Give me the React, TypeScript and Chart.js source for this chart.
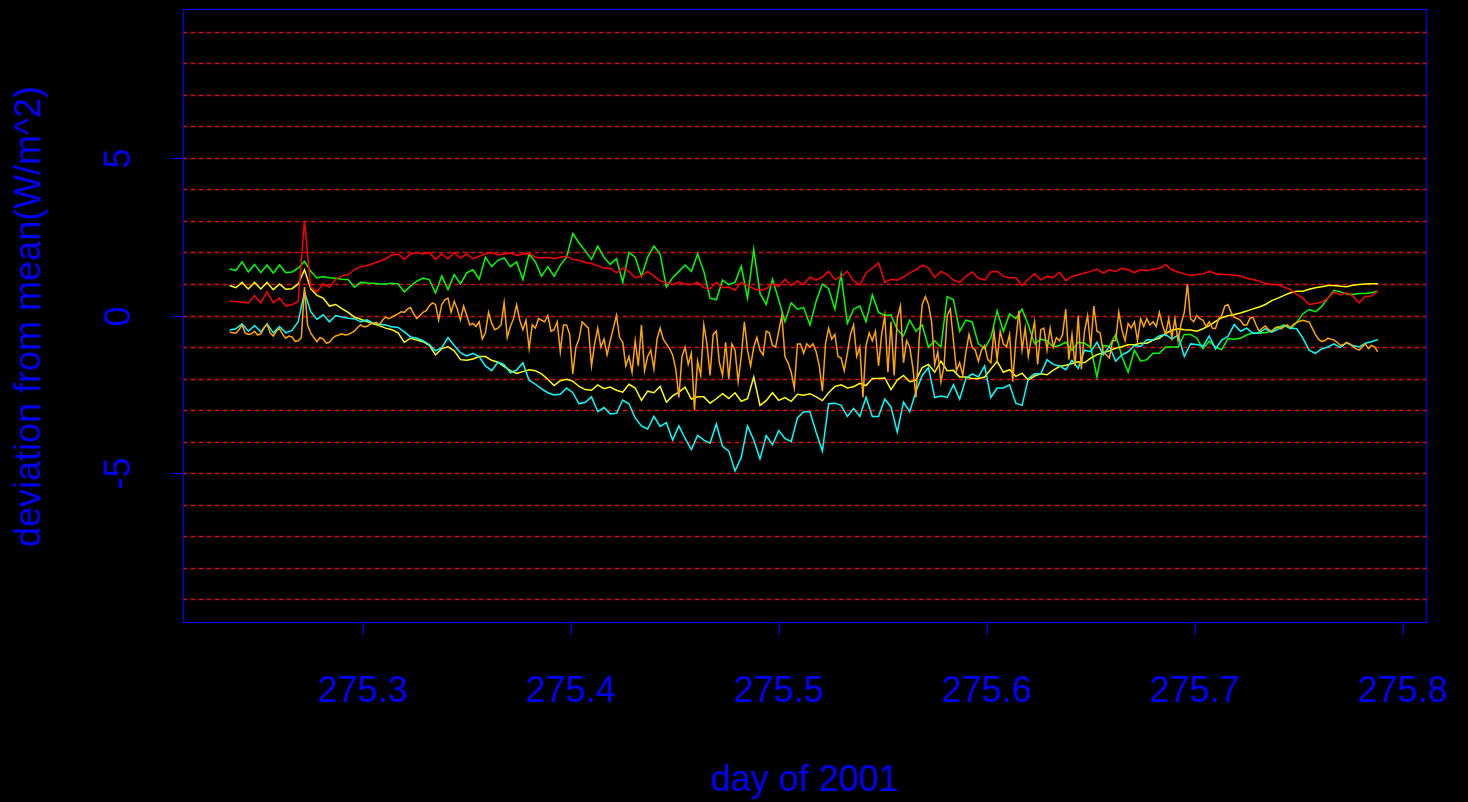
import React, { useEffect, useRef } from "react";
import { Chart, registerables } from "chart.js";

Chart.register(...registerables);

// sampling grids (day of 2001)
const DAY_START = 275.236;
const DAY_STEP = 0.003;
const ORANGE_STEP = 0.0015;

const X_MIN = 275.2136;
const X_MAX = 275.8112;
const Y_MIN = -9.72;
const Y_MAX = 9.72;

const X_TICKS = [275.3, 275.4, 275.5, 275.6, 275.7, 275.8];
const X_TICK_LABELS = ["275.3", "275.4", "275.5", "275.6", "275.7", "275.8"];
const Y_TICKS = [-5, 0, 5];
const Y_TICK_LABELS = ["-5", "0", "5"];
const GRID_VALUES = [-9, -8, -7, -6, -5, -4, -3, -2, -1, 0, 1, 2, 3, 4, 5, 6, 7, 8, 9];

const X_TITLE = "day of 2001";
const Y_TITLE = "deviation from mean(W/m^2)";

const red = [
  0.45, 0.44, 0.42, 0.40, 0.63, 0.40, 0.75, 0.40, 0.55, 0.30,
  0.34, 0.45, 3.00, 0.90, 0.75, 1.00, 0.90, 1.15, 1.25, 1.30,
  1.45, 1.55, 1.58, 1.65, 1.72, 1.80, 1.92, 1.95, 1.78, 1.95,
  2.00, 1.95, 2.00, 1.78, 1.95, 1.80, 2.00, 1.82, 1.95, 1.80,
  1.88, 1.95, 2.00, 1.92, 1.95, 1.98, 1.90, 1.95, 1.97, 1.85,
  1.82, 1.85, 1.80, 1.85, 1.88, 1.78, 1.75, 1.68, 1.65, 1.58,
  1.50, 1.50, 1.35, 1.50, 1.40, 1.20, 1.25, 1.40, 1.25, 1.10,
  1.05, 0.98, 1.05, 1.00, 0.98, 1.05, 0.88, 0.85, 1.05, 0.88,
  0.90, 0.80, 1.05, 0.95, 0.85, 0.80, 0.85, 1.00, 0.92, 1.15,
  0.95, 1.10, 0.98, 1.22, 1.12, 1.22, 1.40, 1.14, 1.24, 1.40,
  1.10, 0.97, 1.35, 1.50, 1.67, 1.05, 1.15, 1.12, 1.22, 1.35,
  1.45, 1.60, 1.50, 1.20, 1.40, 1.30, 1.12, 1.05, 1.24, 1.38,
  1.18, 1.13, 1.38, 1.40, 1.24, 1.20, 1.20, 0.95, 1.15, 1.32,
  1.13, 1.24, 1.20, 1.37, 1.10, 1.24, 1.29, 1.35, 1.40, 1.47,
  1.34, 1.45, 1.40, 1.50, 1.45, 1.36, 1.45, 1.42, 1.47, 1.50,
  1.61, 1.45, 1.38, 1.32, 1.27, 1.30, 1.32, 1.40, 1.33, 1.30,
  1.30, 1.28, 1.25, 1.18, 1.14, 1.09, 1.02, 0.98, 0.98, 0.90,
  0.82, 0.67, 0.55, 0.35, 0.38, 0.42, 0.55, 0.75, 0.65, 0.72,
  0.62, 0.40, 0.60, 0.62, 0.77,
];

const green = [
  1.48, 1.42, 1.70, 1.38, 1.62, 1.36, 1.60, 1.35, 1.60, 1.36,
  1.38, 1.50, 1.72, 1.40, 1.19, 1.24, 1.20, 1.18, 1.15, 1.14,
  0.90, 1.05, 1.03, 1.02, 1.00, 1.00, 1.02, 1.00, 0.75, 0.93,
  1.09, 1.19, 1.14, 0.71, 1.25, 0.82, 1.30, 1.00, 1.35, 1.45,
  1.15, 1.85, 1.55, 1.75, 1.83, 1.55, 1.70, 1.14, 1.95, 1.70,
  1.25, 1.55, 1.24, 1.60, 1.85, 2.60, 2.30, 2.05, 1.78, 2.20,
  1.85, 1.62, 1.80, 1.05, 2.00, 1.85, 1.24, 1.85, 2.20, 1.95,
  0.90, 1.20, 1.40, 1.60, 1.40, 1.95, 1.40, 0.55, 0.50, 1.12,
  0.98, 1.05, 1.56, 0.55, 2.10, 0.70, 0.35, 1.15, 0.50, -0.20,
  0.40, 0.20, 0.25, -0.30, 0.45, 1.00, 0.85, 0.20, 1.30, -0.25,
  0.20, 0.30, -0.20, 0.65, 0.10, 0.00, 0.02, -0.45, -0.65, -0.15,
  -0.50, -0.30, -1.00, -0.80, -1.00, 0.60, 0.50, -0.50, -0.15, -0.20,
  -0.90, -1.05, -0.70, 0.15, -0.50, 0.05, -0.10, 0.20, -0.30, -0.90,
  -0.75, -0.80, -1.00, -0.95, -0.85, -1.10, -0.85, -0.88, -1.00, -1.95,
  -0.95, -0.98, -0.60, -1.30, -1.80, -1.10, -1.45, -1.40, -1.20, -1.20,
  -1.00, -1.00, -1.00, -0.60, -0.60, -0.72, -1.05, -0.81, -1.00, -1.08,
  -0.73, -0.75, -0.72, -0.62, -0.55, -0.56, -0.54, -0.50, -0.38, -0.30,
  -0.42, -0.22, 0.05, 0.19, 0.12, 0.28, 0.55, 0.80, 0.75, 0.68,
  0.67, 0.70, 0.70, 0.72, 0.77,
];

const yellow = [
  0.95, 0.88, 1.05, 0.84, 1.05, 0.84, 1.05, 0.82, 1.00, 0.83,
  0.85, 1.00, 1.45, 0.85, 0.64, 0.55, 0.30, 0.35, 0.22, 0.10,
  -0.05, -0.12, -0.19, -0.26, -0.32, -0.40, -0.45, -0.55, -0.85, -0.72,
  -0.78, -0.83, -0.95, -1.25, -1.05, -0.99, -1.12, -1.40, -1.42, -1.38,
  -1.30, -1.30, -1.42, -1.48, -1.62, -1.75, -1.84, -1.78, -1.72, -1.75,
  -1.85, -2.02, -2.22, -2.07, -2.02, -2.08, -2.25, -2.35, -2.37, -2.20,
  -2.32, -2.27, -2.37, -2.43, -2.18, -2.30, -2.69, -2.40, -2.45, -2.25,
  -2.75, -2.55, -2.43, -2.27, -2.65, -2.58, -2.58, -2.78, -2.64, -2.48,
  -2.63, -2.45, -2.72, -2.64, -1.95, -2.85, -2.70, -2.45, -2.69, -2.60,
  -2.72, -2.50, -2.53, -2.48, -2.58, -2.70, -2.45, -2.25, -2.20, -2.30,
  -2.26, -2.15, -2.22, -2.00, -2.00, -1.98, -2.35, -2.05, -1.90, -2.10,
  -2.05, -1.65, -1.55, -1.80, -1.45, -1.75, -1.74, -1.95, -1.95, -2.00,
  -2.00, -1.95, -1.70, -1.45, -1.80, -1.72, -1.93, -1.83, -2.05, -1.92,
  -1.85, -1.88, -1.73, -1.62, -1.58, -1.52, -1.47, -1.50, -1.35, -1.24,
  -1.18, -1.12, -1.04, -0.99, -0.93, -0.93, -0.88, -0.88, -0.78, -0.72,
  -0.57, -0.47, -0.42, -0.45, -0.46, -0.50, -0.42, -0.32, -0.19, -0.07,
  -0.01, 0.03, 0.08, 0.14, 0.21, 0.27, 0.35, 0.47, 0.55, 0.64,
  0.72, 0.77, 0.77, 0.83, 0.88, 0.91, 0.95, 0.95, 0.93, 0.91,
  0.96, 0.98, 1.00, 1.01, 1.01,
];

const cyan = [
  -0.46, -0.42, -0.26, -0.50, -0.32, -0.52, -0.26, -0.55, -0.35, -0.55,
  -0.47, -0.20, 0.75, 0.12, -0.12, 0.02, -0.20, 0.00, -0.05, -0.09,
  -0.10, -0.20, -0.14, -0.24, -0.28, -0.30, -0.36, -0.38, -0.52, -0.68,
  -0.72, -0.80, -0.92, -1.12, -1.02, -0.70, -0.95, -1.18, -1.28, -1.20,
  -1.30, -1.60, -1.75, -1.48, -1.56, -1.82, -1.73, -1.50, -2.05, -2.18,
  -2.33, -2.45, -2.52, -2.50, -2.30, -2.45, -2.80, -2.75, -2.58, -3.05,
  -2.92, -3.12, -3.10, -2.68, -2.80, -3.25, -3.50, -3.60, -3.20, -3.52,
  -3.40, -3.95, -3.50, -3.90, -4.25, -3.80, -3.95, -4.05, -3.44, -4.15,
  -4.30, -4.93, -4.50, -3.50, -3.95, -4.55, -3.81, -4.10, -3.65, -3.90,
  -4.00, -3.25, -3.05, -3.05, -3.70, -4.30, -2.80, -2.78, -2.85, -3.20,
  -2.95, -3.20, -2.59, -3.20, -3.20, -2.65, -2.90, -3.70, -2.75, -3.05,
  -2.40, -1.90, -1.65, -2.60, -2.55, -2.60, -2.20, -2.65, -2.00, -1.85,
  -1.95, -1.60, -2.60, -2.30, -2.30, -2.20, -2.78, -2.85, -2.00, -1.85,
  -1.85, -1.40, -1.55, -1.60, -1.72, -1.42, -1.68, -1.10, -1.15, -0.85,
  -1.25, -0.98, -1.45, -1.25, -1.15, -0.95, -0.98, -0.77, -0.77, -0.65,
  -0.60, -0.75, -0.62, -1.30, -0.90, -0.92, -0.97, -0.65, -1.06, -0.78,
  -0.66, -0.29, -0.50, -0.40, -0.57, -0.55, -0.42, -0.53, -0.44, -0.32,
  -0.40, -0.42, -0.72, -1.10, -1.20, -1.06, -1.00, -0.90, -1.02, -0.87,
  -0.95, -1.00, -0.88, -0.83, -0.76,
];

// orange is sampled twice as densely (ORANGE_STEP)
const orange = [
  -0.52, -0.55, -0.56, -0.45, -0.30, -0.55, -0.60, -0.58, -0.50, -0.62,
  -0.58, -0.40, -0.28, -0.55, -0.65, -0.50, -0.42, -0.60, -0.72, -0.65,
  -0.68, -0.82, -0.80, -0.70, 0.90, -0.30, -0.55, -0.70, -0.83, -0.70,
  -0.75, -0.88, -0.85, -0.72, -0.65, -0.62, -0.58, -0.62, -0.60, -0.55,
  -0.50, -0.38, -0.30, -0.36, -0.35, -0.28, -0.25, -0.22, -0.30, -0.15,
  -0.05, -0.10, -0.05, 0.00, 0.05, 0.12, 0.10, 0.20, 0.25, 0.05,
  -0.10, 0.00, 0.10, 0.15, 0.30, 0.40, 0.35, -0.15, 0.35, 0.50,
  0.55, 0.10, 0.45, 0.20, -0.14, 0.30, 0.00, -0.30, -0.25, -0.35,
  -0.20, -0.75, -0.55, 0.10, -0.25, -0.45, -0.40, -0.30, 0.40, -0.70,
  -0.35, -0.10, 0.34, -0.15, -0.45, -0.15, -1.05, -0.30, -0.40, -0.10,
  -0.15, -0.20, 0.00, -0.50, -0.45, -0.20, -1.15, -0.30, -0.30, -0.60,
  -1.85, -1.00, -0.75, -0.20, -0.30, -0.40, -1.60, -0.90, -0.40,
  -1.00, -0.75, -1.25, -0.80, -0.40, 0.00, -0.70, -0.85, -1.60, -1.30,
  -1.80, -0.80, -1.60, -0.30, -1.75, -1.30, -1.10, -1.70, -0.75, -0.40,
  -0.75, -0.90, -1.05, -1.25, -1.70, -2.60, -1.30, -1.00, -1.55, -1.20,
  -3.00, -1.45, -1.90, -0.30, -0.90, -1.90, -0.60, -0.50, -1.50, -1.90,
  -0.85, -2.00, -0.90, -1.10, -2.10, -1.30, -0.20, -1.10,
  -1.60, -1.00, -0.70, -1.10, -1.25, -0.50, -0.55, -0.95, -1.00, -0.50,
  0.00, -1.30, -1.50, -1.80, -2.30, -0.90, -0.90, -1.20, -0.90, -1.00,
  -0.90, -1.15, -1.60, -2.40, -0.90, -0.40, -0.75, -0.60, -1.30, -1.35,
  -1.75, -1.20, -0.60, -0.30, -1.30, -1.00, -2.60, -0.95, -0.55, -0.80,
  -0.50, -1.60, -0.60, 0.00, -1.80, -0.20, -1.90, -0.10,
  0.30, -1.50, -0.80, -1.00, -1.65, -2.60, -0.80, 0.35, 0.60, 0.35,
  -0.20, -1.55, -1.15, -2.10, -1.60, 0.00, 0.20, -0.80, -1.75, -1.50,
  -1.90, -1.15, -0.60, -1.00, -1.10, -1.45, -1.10, -0.95, -1.40, -1.50,
  -0.50, -1.40, -0.50, -0.90, -1.00, -0.60, -2.10, -0.80, 0.15, -1.10,
  -0.40, -1.30, -0.70, -0.20, -1.55, -0.45, -0.40, -1.10,
  -0.40, -1.00, -0.70, -0.80, -0.60, 0.20, -1.40, -0.60, -1.60, 0.00,
  -1.70, -0.50, 0.00, -1.00, 0.30, -0.50, -0.55, -1.15, -1.25, -1.35,
  -0.80, -0.80, 0.10, -0.45, -0.80, -0.25, -0.40, -0.20, -0.80, -0.10,
  -0.35, -0.10, -0.30, -0.20, -0.35, 0.10, -0.30, -0.60, -0.10, -0.70,
  -0.10, -0.80, -0.25, 0.10, 1.00, -0.10, -0.20, 0.00,
  -0.10, -0.15, -0.35, -0.20, -0.40, -0.42, -0.10, 0.00, 0.30, 0.35,
  0.10, -0.05, -0.10, -0.15, -0.30, -0.30, -0.10, -0.05, -0.30, -0.50,
  -0.40, -0.33, -0.45, -0.50, -0.40, -0.35, -0.42, -0.35, -0.30, -0.38,
  -0.28, -0.22, -0.18, -0.15, -0.18, -0.20, -0.40, -0.60, -0.75, -0.82,
  -0.80, -0.72, -0.75, -0.78, -0.85, -0.95, -0.92, -0.85, -0.90, -0.98,
  -1.05, -1.10, -1.00, -0.90, -1.05, -0.95, -1.00, -1.15,
];

const AXIS_BLUE = "#0000ff";
const FONT = "Liberation Sans, Arial, sans-serif";

function toPoints(values: number[], step: number) {
  return values.map((v, i) => ({ x: +(DAY_START + i * step).toFixed(4), y: v }));
}

const decorPlugin = {
  id: "decor",
  beforeDraw(chart: any) {
    const { ctx, width, height } = chart;
    ctx.save();
    ctx.fillStyle = "#000000";
    ctx.fillRect(0, 0, width, height);
    ctx.restore();
  },
  beforeDatasetsDraw(chart: any) {
    const { ctx, chartArea } = chart;
    const yScale = chart.scales.y;
    ctx.save();
    ctx.strokeStyle = "#ff0000";
    ctx.lineWidth = 1.5;
    ctx.setLineDash([4, 4]);
    for (const g of GRID_VALUES) {
      const y = Math.round(yScale.getPixelForValue(g)) + 0.5;
      ctx.beginPath();
      ctx.moveTo(chartArea.left, y);
      ctx.lineTo(chartArea.right, y);
      ctx.stroke();
    }
    ctx.restore();
  },
  afterDatasetsDraw(chart: any) {
    const { ctx, chartArea } = chart;
    const xScale = chart.scales.x;
    const yScale = chart.scales.y;
    const L = chartArea.left + 0.5;
    const R = chartArea.right + 0.5;
    const T = chartArea.top + 0.5;
    const B = chartArea.bottom + 0.5;
    ctx.save();
    ctx.strokeStyle = AXIS_BLUE;
    ctx.fillStyle = AXIS_BLUE;
    ctx.lineWidth = 1.2;
    ctx.setLineDash([]);
    ctx.strokeRect(L, T, R - L, B - T);

    // x ticks + labels
    ctx.font = `36px ${FONT}`;
    ctx.textAlign = "center";
    ctx.textBaseline = "alphabetic";
    X_TICKS.forEach((t, i) => {
      const x = Math.round(xScale.getPixelForValue(t)) + 0.5;
      ctx.beginPath();
      ctx.moveTo(x, B);
      ctx.lineTo(x, B + 12);
      ctx.stroke();
      ctx.fillText(X_TICK_LABELS[i], x - 1, 702);
    });

    // y ticks + rotated labels
    Y_TICKS.forEach((t, i) => {
      const y = Math.round(yScale.getPixelForValue(t)) + 0.5;
      ctx.beginPath();
      ctx.moveTo(L, y);
      ctx.lineTo(L - 12, y);
      ctx.stroke();
      ctx.save();
      ctx.translate(130, y);
      ctx.rotate(-Math.PI / 2);
      ctx.fillText(Y_TICK_LABELS[i], 0, 0);
      ctx.restore();
    });

    // titles
    ctx.fillText(X_TITLE, (chartArea.left + chartArea.right) / 2, 791);
    ctx.save();
    ctx.translate(40, (chartArea.top + chartArea.bottom) / 2 + 1);
    ctx.rotate(-Math.PI / 2);
    ctx.fillText(Y_TITLE, 0, 0);
    ctx.restore();
    ctx.restore();
  },
};

export default function App() {
  const canvasRef = useRef<HTMLCanvasElement | null>(null);

  useEffect(() => {
    document.body.style.margin = "0";
    document.body.style.background = "#000";
    const canvas = canvasRef.current;
    if (!canvas) return;
    const mk = (label: string, values: number[], step: number, color: string) => ({
      label,
      data: toPoints(values, step),
      borderColor: color,
      backgroundColor: color,
      borderWidth: 1.5,
      pointRadius: 0,
      tension: 0,
      fill: false,
    });
    const chart = new Chart(canvas, {
      type: "line",
      data: {
        datasets: [
          mk("red", red, DAY_STEP, "#ff0000"),
          mk("orange", orange, ORANGE_STEP, "#ffa500"),
          mk("cyan", cyan, DAY_STEP, "#00ffff"),
          mk("yellow", yellow, DAY_STEP, "#ffff00"),
          mk("green", green, DAY_STEP, "#00ff00"),
        ],
      },
      options: {
        responsive: false,
        animation: false,
        devicePixelRatio: 1,
        layout: { padding: { left: 183, right: 42, top: 9, bottom: 180 } },
        plugins: { legend: { display: false }, tooltip: { enabled: false } },
        events: [],
        scales: {
          x: { type: "linear", min: X_MIN, max: X_MAX, display: false },
          y: { type: "linear", min: Y_MIN, max: Y_MAX, display: false },
        },
      },
      plugins: [decorPlugin],
    });
    return () => chart.destroy();
  }, []);

  return (
    <div style={{ position: "fixed", left: 0, top: 0, width: 1468, height: 802, background: "#000" }}>
      <canvas ref={canvasRef} width={1468} height={802} style={{ display: "block" }} />
    </div>
  );
}
